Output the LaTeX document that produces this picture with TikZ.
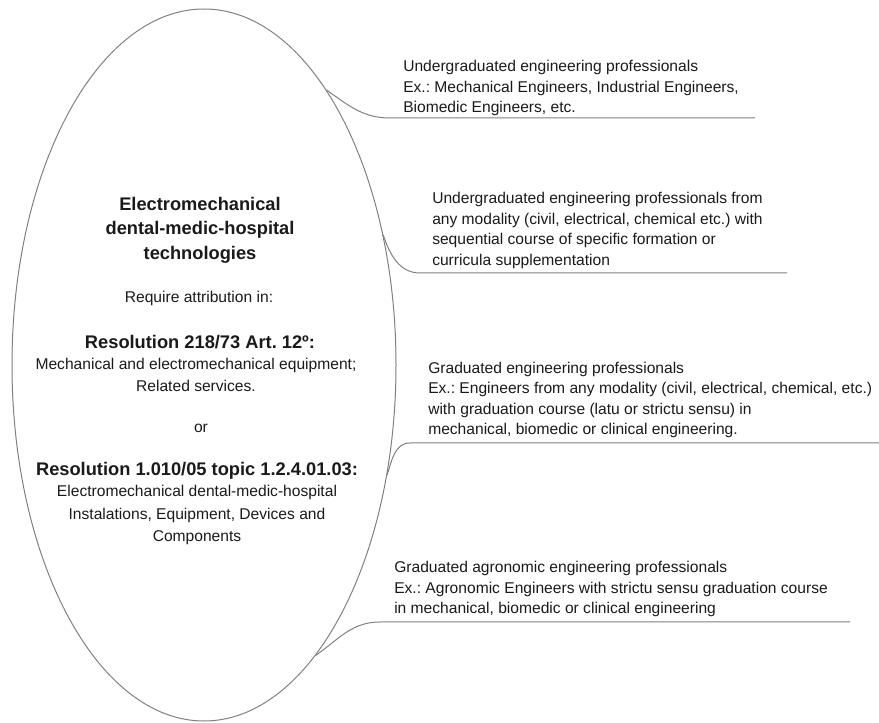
\documentclass[tikz,border=0pt]{standalone}
\usepackage{fontspec}
\setmainfont{Liberation Sans}
\usetikzlibrary{shapes.geometric}
\definecolor{linegray}{HTML}{808080}
\definecolor{txt}{HTML}{1A1A1A}
\frenchspacing
\tikzset{
  conn/.style={draw=linegray, line width=0.75pt},
  inbold/.style={font=\fontsize{13.7pt}{18.4pt}\selectfont\bfseries, text=txt, align=center, inner sep=0pt},
  intext/.style={font=\fontsize{11.7pt}{17pt}\selectfont, text=txt, align=center, inner sep=0pt},
  side/.style={font=\fontsize{11.7pt}{15.4pt}\selectfont, text=txt, align=left, inner sep=0pt, anchor=west},
}
\begin{document}
\begin{tikzpicture}[x=0.75pt,y=0.75pt]
\useasboundingbox (0,0) rectangle (879,722);
\node[ellipse, conn, minimum width=384*0.75pt, minimum height=712*0.75pt, inner sep=0pt] (ell) at (204,357) {};

\node[inbold] (title) at (200,492) {Electromechanical\\dental-medic-hospital\\technologies};
\node[intext] (req) at (199,424) {Require attribution in:};
\node[inbold] (res1) at (200,380) {Resolution 218/73 Art. 12º:};
\node[intext] (res1t) at (196,347) {Mechanical and electromechanical equipment;\\Related services.};
\node[intext] (or) at (201,294) {or};
\node[inbold] (res2) at (197,251) {Resolution 1.010/05 topic 1.2.4.01.03:};
\node[intext] (res2t) at (197,207) {Electromechanical dental-medic-hospital\\Instalations, Equipment, Devices and\\Components};

\node[side] (b1) at (403,634) {Undergraduated engineering professionals\\Ex.: Mechanical Engineers, Industrial Engineers,\\Biomedic Engineers, etc.};
\node[side] (b2) at (432,491.5) {Undergraduated engineering professionals from\\any modality (civil, electrical, chemical etc.) with\\sequential course of specific formation or\\curricula supplementation};
\node[side] (b3) at (428,322) {Graduated engineering professionals\\Ex.: Engineers from any modality (civil, electrical, chemical, etc.)\\with graduation course (latu or strictu sensu) in\\mechanical, biomedic or clinical engineering.};
\node[side] (b4) at (394,133) {Graduated agronomic engineering professionals\\Ex.: Agronomic Engineers with strictu sensu graduation course\\in mechanical, biomedic or clinical engineering};

\coordinate (l1a) at (390,604);
\coordinate (l1b) at (755,604);
\coordinate (l2a) at (420,449);
\coordinate (l2b) at (787,449);
\coordinate (l3a) at (410,279);
\coordinate (l3b) at (879,279);
\coordinate (l4a) at (380,100);
\coordinate (l4b) at (850,100);

\draw[conn] (ell.66) to[out=-35,in=180] (l1a) -- (l1b);
\draw[conn] (ell.36) to[out=-72,in=180] (l2a) -- (l2b);
\draw[conn] (ell.-31) to[out=72,in=180] (l3a) -- (l3b);
\draw[conn] (ell.-69) to[out=35,in=180] (l4a) -- (l4b);
\end{tikzpicture}
\end{document}
